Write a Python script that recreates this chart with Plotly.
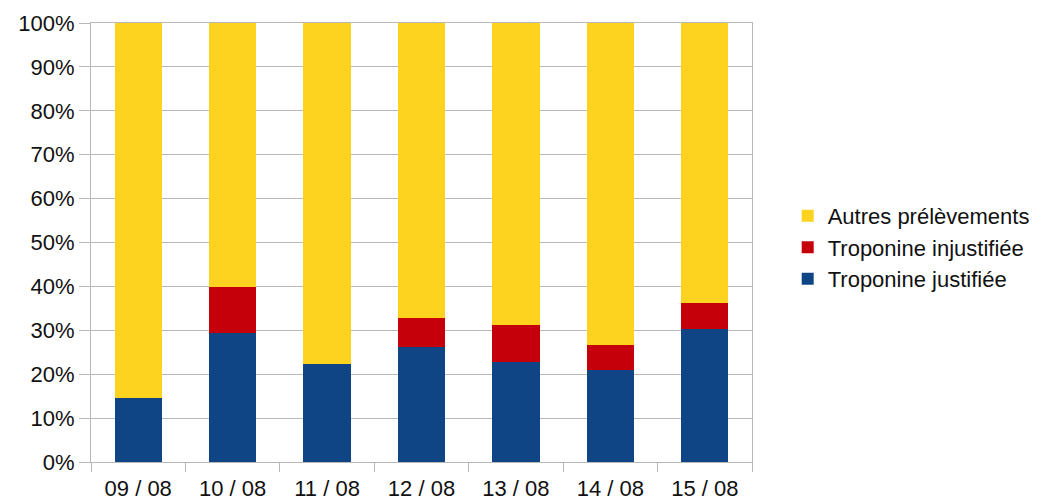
import plotly.graph_objects as go

categories = ["09 / 08", "10 / 08", "11 / 08", "12 / 08", "13 / 08", "14 / 08", "15 / 08"]
troponine_justifiee = [14.5, 29.4, 22.4, 26.3, 22.7, 21.0, 30.2]
troponine_injustifiee = [0.0, 10.4, 0.0, 6.5, 8.6, 5.7, 6.1]
autres_prelevements = [85.5, 60.2, 77.6, 67.2, 68.7, 73.3, 63.7]
y_ticks = [0, 10, 20, 30, 40, 50, 60, 70, 80, 90, 100]
y_tick_labels = [f"{v}%" for v in y_ticks]

BLUE = "#0f4584"
RED = "#c5000b"
YELLOW = "#fdd31f"
GRID = "#b8b8b8"

fig = go.Figure()
fig.add_trace(go.Bar(x=categories, y=troponine_justifiee, name="Troponine justifiée",
                     marker=dict(color=BLUE, line=dict(width=0))))
fig.add_trace(go.Bar(x=categories, y=troponine_injustifiee, name="Troponine injustifiée",
                     marker=dict(color=RED, line=dict(width=0))))
fig.add_trace(go.Bar(x=categories, y=autres_prelevements, name="Autres prélèvements",
                     marker=dict(color=YELLOW, line=dict(width=0))))

fig.update_layout(
    width=1055, height=501,
    barmode="stack", bargap=0.5,
    paper_bgcolor="white", plot_bgcolor="white",
    margin=dict(l=91, r=303, t=23, b=39),
    font=dict(family="Liberation Sans, Arial, sans-serif", size=22, color="#111111"),
    legend=dict(traceorder="reversed", x=1.054, y=0.489,
                xanchor="left", yanchor="middle",
                font=dict(size=22), bgcolor="rgba(0,0,0,0)"),
    showlegend=True,
)
fig.update_xaxes(
    showline=True, linecolor=GRID, linewidth=1, mirror=True,
    ticks="outside", ticklen=9, tickcolor=GRID, tickson="boundaries",
    showgrid=False, ticklabelstandoff=7, automargin=False,
)
fig.update_yaxes(
    range=[0, 100], tickvals=y_ticks, ticktext=y_tick_labels,
    showline=True, linecolor=GRID, linewidth=1, mirror=True,
    ticks="outside", ticklen=11, tickcolor=GRID,
    showgrid=True, gridcolor=GRID, gridwidth=1, zeroline=False,
    automargin=False,
)

fig.write_html("out.html")
